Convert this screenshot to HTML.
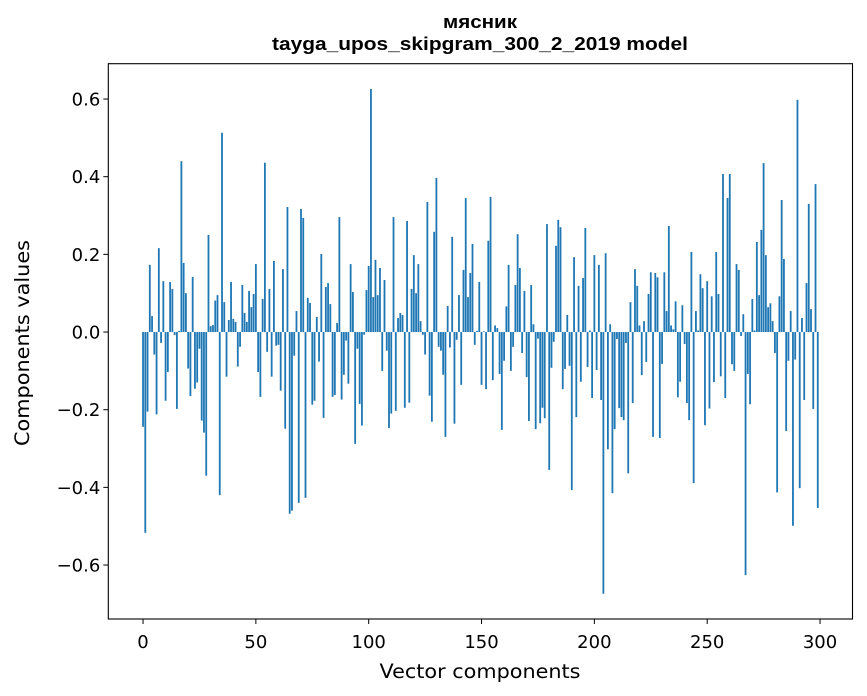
<!DOCTYPE html>
<html><head><meta charset="utf-8"><style>
html,body{margin:0;padding:0;background:#fff;}
svg{display:block;font-family:"DejaVu Sans","Liberation Sans",sans-serif;}
.ttl{font-family:"Liberation Sans","DejaVu Sans",sans-serif;font-weight:bold;}
</style></head><body>
<svg id="chart" width="867" height="696" viewBox="0 0 867 696" xmlns="http://www.w3.org/2000/svg">
<rect width="867" height="696" fill="#fff"/>
<text class="ttl" x="480" y="28" text-anchor="middle" font-size="18" textLength="74" lengthAdjust="spacingAndGlyphs">мясник</text>
<text class="ttl" x="480" y="50" text-anchor="middle" font-size="18.5" textLength="416" lengthAdjust="spacingAndGlyphs">tayga_upos_skipgram_300_2_2019 model</text>
<g id="bars"></g>
<g id="xticks"></g>
<g id="yticks"></g>
<rect x="108.3" y="63.7" width="744.2" height="555.3" fill="none" stroke="#000" stroke-width="1.1"/>
<text x="480" y="678" text-anchor="middle" font-size="19.5" textLength="201" lengthAdjust="spacingAndGlyphs">Vector components</text>
<text transform="translate(29,343) rotate(-90)" text-anchor="middle" font-size="19.5" textLength="206" lengthAdjust="spacingAndGlyphs">Components values</text>
</svg>
<script>
const values = [
-0.244,-0.517,-0.205,0.173,0.041,-0.058,-0.212,0.216,-0.028,0.131,
-0.177,-0.103,0.129,0.111,-0.008,-0.198,0.003,0.44,0.178,0.10,
-0.094,-0.165,0.142,-0.146,-0.13,-0.043,-0.228,-0.259,-0.37,0.25,
0.015,0.018,0.081,0.095,-0.42,0.513,0.077,-0.115,0.031,0.129,
0.034,0.026,-0.089,-0.038,0.121,0.049,0.026,0.106,0.064,0.098,
0.175,-0.103,-0.167,0.085,0.436,-0.051,0.111,-0.115,0.183,-0.035,
-0.033,-0.151,0.162,-0.249,0.322,-0.468,-0.46,-0.061,0.054,-0.44,
0.317,0.294,-0.427,0.088,0.075,-0.187,-0.177,0.039,-0.076,0.201,
-0.221,0.116,0.126,0.072,-0.167,-0.162,0.023,0.296,-0.174,-0.11,
-0.022,-0.133,0.175,0.103,-0.288,-0.043,-0.185,-0.241,-0.007,0.108,
0.17,0.626,0.09,0.186,0.095,0.165,-0.10,0.134,-0.048,-0.247,
-0.21,0.296,-0.203,0.036,0.049,0.044,-0.195,0.286,-0.182,0.111,
0.198,0.10,0.175,0.028,-0.007,-0.058,0.335,-0.164,-0.231,0.258,
0.397,-0.038,-0.048,-0.11,-0.27,0.067,-0.04,0.245,-0.236,-0.02,
0.095,-0.136,0.16,0.345,0.09,0.152,0.227,-0.033,0.003,0.129,
-0.136,0.002,-0.147,0.235,0.348,-0.124,0.017,0.01,-0.108,-0.252,
-0.074,0.066,0.173,-0.10,-0.038,0.121,0.252,0.165,-0.054,0.106,
-0.116,-0.229,0.121,0.02,-0.25,-0.017,-0.235,-0.195,-0.222,0.278,
-0.355,-0.092,-0.025,0.222,0.289,0.27,-0.147,-0.095,0.044,-0.087,
-0.407,0.193,-0.219,0.119,-0.128,0.139,0.268,-0.09,0.004,-0.17,
0.198,-0.098,0.173,-0.175,-0.674,0.203,-0.302,0.02,-0.415,-0.25,
-0.018,-0.196,-0.219,-0.227,-0.028,-0.364,0.077,-0.183,0.162,0.119,
0.017,-0.111,0.028,-0.077,0.098,0.154,-0.27,0.152,0.141,-0.273,
-0.082,0.154,0.054,0.273,0.017,0.007,0.079,-0.168,-0.128,0.069,
-0.031,-0.183,-0.227,0.206,-0.389,0.054,0.004,0.149,0.113,-0.24,
0.131,-0.197,0.092,-0.129,0.206,0.098,-0.114,0.407,-0.17,0.345,
0.407,-0.083,-0.10,0.175,0.16,-0.01,0.046,-0.626,-0.108,-0.186,
0.085,0.004,0.232,0.095,0.263,0.435,0.198,0.064,0.074,0.028,
-0.054,-0.413,0.092,0.34,0.188,-0.255,-0.074,0.054,-0.499,-0.071,
0.598,-0.402,0.036,-0.175,0.126,0.33,0.059,-0.198,0.381,-0.453
];
const xTickValues = [0,50,100,150,200,250,300];
const yTickValues = [-0.6,-0.4,-0.2,0,0.2,0.4,0.6];
const yTickLabels = ["\u22120.6","\u22120.4","\u22120.2","0.0","0.2","0.4","0.6"];

const NS = "http://www.w3.org/2000/svg";
const xMin = -15.39, xMax = 314.39, pxL = 108.3, pxR = 852.5;
const yMin = -0.739, yMax = 0.691, pxB = 619, pxT = 63.7;
function xs(v){ return pxL + (v - xMin) / (xMax - xMin) * (pxR - pxL); }
function ys(v){ return pxB - (v - yMin) / (yMax - yMin) * (pxB - pxT); }

const gb = document.getElementById('bars');
values.forEach((v, i) => {
  const r = document.createElementNS(NS, 'rect');
  const x0 = xs(i - 0.4), x1 = xs(i + 0.4);
  const y0 = ys(Math.max(v, 0)), y1 = ys(Math.min(v, 0));
  r.setAttribute('x', x0);
  r.setAttribute('width', x1 - x0);
  r.setAttribute('y', y0);
  r.setAttribute('height', Math.max(y1 - y0, 0.3));
  r.setAttribute('fill', '#1f77b4');
  
  
  gb.appendChild(r);
});

const gx = document.getElementById('xticks');
xTickValues.forEach(t => {
  const x = xs(t);
  const l = document.createElementNS(NS, 'line');
  l.setAttribute('x1', x); l.setAttribute('x2', x);
  l.setAttribute('y1', pxB); l.setAttribute('y2', pxB + 5);
  l.setAttribute('stroke', '#000');
  
  
  gx.appendChild(l);
  const tx = document.createElementNS(NS, 'text');
  tx.setAttribute('x', x); tx.setAttribute('y', pxB + 29);
  tx.setAttribute('text-anchor', 'middle');
  tx.setAttribute('font-size', '18');
  tx.textContent = String(t);
  
  
  gx.appendChild(tx);
});

const gy = document.getElementById('yticks');
yTickValues.forEach((t, i) => {
  const y = ys(t);
  const l = document.createElementNS(NS, 'line');
  l.setAttribute('x1', pxL - 5); l.setAttribute('x2', pxL);
  l.setAttribute('y1', y); l.setAttribute('y2', y);
  l.setAttribute('stroke', '#000');
  
  
  gy.appendChild(l);
  const tx = document.createElementNS(NS, 'text');
  tx.setAttribute('x', pxL - 8); tx.setAttribute('y', y + 6.5);
  tx.setAttribute('text-anchor', 'end');
  tx.setAttribute('font-size', '18');
  tx.textContent = yTickLabels[i];
  
  
  gy.appendChild(tx);
});
</script>
</body></html>
